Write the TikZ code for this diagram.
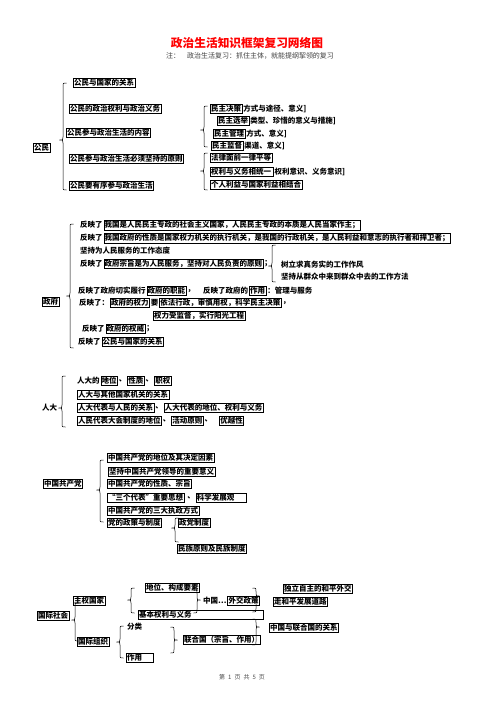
\documentclass[tikz,border=0pt]{standalone}
\usepackage{fontspec}
\newfontfamily\cjk{Noto Sans CJK SC}
\usetikzlibrary{positioning}
\tikzset{
 base/.style={inner xsep=0.8pt, inner ysep=0.9pt, anchor=west, font=\cjk\bfseries\fontsize{7.5}{8}\selectfont},
 bx/.style={base, draw, line width=0.7pt},
 tx/.style={base},
 brc/.style={line width=0.5pt},
}
\newcommand{\LBr}[4]{\draw[brc] (#1+3.5,#2) .. controls (#1,#2) .. (#1,#2+3.5) -- (#1,#3-3) .. controls (#1,#3) .. (#1-3.5,#3) .. controls (#1,#3) .. (#1,#3+3) -- (#1,#4-3.5) .. controls (#1,#4) .. (#1+3.5,#4);}
\newcommand{\RBr}[4]{\draw[brc] (#1-3.5,#2) .. controls (#1,#2) .. (#1,#2+3.5) -- (#1,#3-3) .. controls (#1,#3) .. (#1+3.5,#3) .. controls (#1,#3) .. (#1,#3+3) -- (#1,#4-3.5) .. controls (#1,#4) .. (#1-3.5,#4);}
\begin{document}
\begin{tikzpicture}[x=1pt,y=-1pt]
\fill[white] (0,0) rectangle (496,702);
\useasboundingbox (0,0) rectangle (496,702);
% title
\node[font=\cjk\bfseries\fontsize{11.7}{12}\selectfont, text=red] (title) at (247,43) {政治生活知识框架复习网络图};
\node[font=\cjk\fontsize{7}{8}\selectfont, text=black!75] (sub) at (250,56) {注：\hspace{1em}政治生活复习：抓住主体，就能提纲挈领的复习};
% 公民
\node[bx] (gm) at (33,148) {公民};
\LBr{63}{83}{140}{190}
\node[bx] (g1) at (73,83) {公民与国家的关系};
\node[bx] (g2) at (69,109) {公民的政治权利与政治义务};
\node[bx] (g3) at (66,133) {公民参与政治生活的内容};
\node[bx] (g4) at (69,159) {公民参与政治生活必须坚持的原则};
\node[bx] (g5) at (69,186) {公民要有序参与政治生活};
\LBr{204}{106}{130}{147}
\node[bx] (m1) at (210,109) {民主决策}; \node[tx,right=0pt of m1] (m1t) {方式与途径、意义]};
\node[bx] (m2) at (217,121) {民主选举}; \node[tx,right=0pt of m2] (m2t) {类型、珍惜的意义与措施]};
\node[bx] (m3) at (213,134) {民主管理}; \node[tx,right=0pt of m3] (m3t) {方式、意义]};
\node[bx] (m4) at (211,146) {民主监督}; \node[tx,right=0pt of m4] (m4t) {渠道、意义]};
\LBr{204}{153}{171}{190}
\node[bx] (p1) at (210,158) {法律面前一律平等};
\node[bx] (p2) at (210,172) {权利与义务相统一\,}; \node[tx,right=0pt of p2] (p2t) {权利意识、义务意识]};
\node[bx] (p3) at (210,185) {个人利益与国家利益相结合};
% 政府
\node[bx] (zf) at (42,302) {政府};
\LBr{70}{224}{296}{348}
\node[tx] (r1) at (79,225) {反映了}; \node[bx,right=0pt of r1] (r1b) {我国是人民民主专政的社会主义国家，人民民主专政的本质是人民当家作主；};
\node[tx] (r2) at (79,238) {反映了}; \node[bx,right=0pt of r2] (r2b) {我国政府的性质是国家权力机关的执行机关，是我国的行政机关，是人民利益和意志的执行者和捍卫者；};
\node[tx] (r3) at (79,251) {坚持为人民服务的工作态度};
\node[tx] (r4) at (79,264) {反映了}; \node[bx,right=0pt of r4] (r4b) {政府宗旨是为人民服务，坚持对人民负责的原则}; \node[tx,right=0pt of r4b] (r4c) {；};
\LBr{272}{245}{266}{282}
\node[tx] (w1) at (280,265) {树立求真务实的工作作风};
\node[tx] (w2) at (280,277) {坚持从群众中来到群众中去的工作方法};
\node[tx] (r5) at (77,291) {反映了政府切实履行}; \node[bx,right=0pt of r5] (r5b) {政府的职能}; \node[tx,right=0pt of r5b] (r5c) {，};
\node[tx] (r5d) at (202,291) {反映了政府的}; \node[bx,right=0pt of r5d] (r5e) {作用}; \node[tx,right=0pt of r5e] (r5f) {：管理与服务};
\node[tx] (r6) at (78,303) {反映了：}; \node[bx,right=0pt of r6] (r6b) {政府的权力}; \node[tx,right=0pt of r6b] (r6c) {要}; \node[bx,right=0pt of r6c] (r6d) {依法行政，审慎用权，科学民主决策}; \node[tx,right=0pt of r6d] (r6e) {，};
\node[bx] (r7) at (153,316) {权力受监督，实行阳光工程};
\node[tx] (r8) at (81,329) {反映了}; \node[bx,right=0pt of r8] (r8b) {政府的权威}; \node[tx,right=0pt of r8b] (r8c) {；};
\node[tx] (r9) at (77,342) {反映了}; \node[bx,right=0pt of r9] (r9b) {公民与国家的关系};
% 人大
\node[tx] (rd) at (41,408) {人大};
\LBr{62}{376}{408}{427}
\node[tx] (d1) at (76,381) {人大的}; \node[bx,right=0pt of d1] (d1a) {地位}; \node[tx,right=0pt of d1a] (d1b) {、}; \node[bx,right=0pt of d1b] (d1c) {性质}; \node[tx,right=0pt of d1c] (d1d) {、}; \node[bx,right=0pt of d1d] (d1e) {职权};
\node[bx] (d2) at (77,395) {人大与其他国家机关的关系};
\node[bx] (d3) at (77,408) {人大代表与人民的关系}; \node[tx,right=0pt of d3] (d3a) {、}; \node[bx,right=0pt of d3a] (d3b) {人大代表的地位、权利与义务};
\node[bx] (d4) at (77,421) {人民代表大会制度的地位}; \node[tx,right=0pt of d4] (d4a) {、}; \node[bx,right=0pt of d4a] (d4b) {活动原则}; \node[tx,right=0pt of d4b] (d4c) {、}; \node[bx,right=6pt of d4c] (d4d) {优越性};
% 中国共产党
\node[bx] (cp) at (43,484) {中国共产党};
\LBr{100}{460}{490}{522}
\node[bx] (c1) at (107,458) {中国共产党的地位及其决定因素};
\node[bx] (c2) at (108,472) {坚持中国共产党领导的重要意义};
\node[bx] (c3) at (107,484) {中国共产党的性质、宗旨};
\node[bx] (c4) at (107,498) {“三个代表”重要思想}; \node[tx,right=2pt of c4] (c4a) {、}; \node[bx,right=0pt of c4a,text width=49pt,align=left] (c4b) {科学发展观};
\node[bx] (c5) at (107,511) {中国共产党的三大执政方式};
\node[bx] (c6) at (107,523) {党的政策与制度};
\LBr{175}{518}{528}{542}
\node[bx] (c7) at (178,523) {政党制度};
\node[bx] (c8) at (177,549) {民族原则及民族制度};
% 国际社会
\node[bx] (gj) at (37,616) {国际社会};
\LBr{75}{603}{620}{641}
\node[bx] (s1) at (73,601) {主权国家};
\node[bx] (s2) at (77,642) {国际组织};
\LBr{131}{588}{600}{613}
\node[bx] (s3) at (145,588) {地位、构成要素};
\node[bx,text width=123pt,align=left] (s4) at (138,615) {基本权利与义务};
\RBr{197}{590}{600}{613}
\node[tx] (s5) at (202,601) {中国…};
\node[bx,right=0pt of s5] (s6) {外交政策};
\RBr{256}{588}{596}{612}
\node[bx] (s7) at (283,589) {独立自主的和平外交};
\node[bx] (s8) at (273,602) {走和平发展道路};
\RBr{256}{619}{627}{645}
\node[bx] (s9) at (269,628) {中国与联合国的关系};
\RBr{174}{627}{640}{653}
\node[bx] (s10) at (183,640) {联合国（宗旨、作用）};
\LBr{120}{626}{642}{658}
\node[tx] (s11) at (126,627) {分类};
\node[bx,text width=25pt,align=left] (s12) at (126,658) {作用};
% footer
\node[font=\cjk\fontsize{6}{7}\selectfont, text=black!70] (ft) at (242,677) {第\hspace{0.5em}1\hspace{0.5em}页\hspace{0.5em}共\hspace{0.5em}5\hspace{0.5em}页};
\end{tikzpicture}
\end{document}
